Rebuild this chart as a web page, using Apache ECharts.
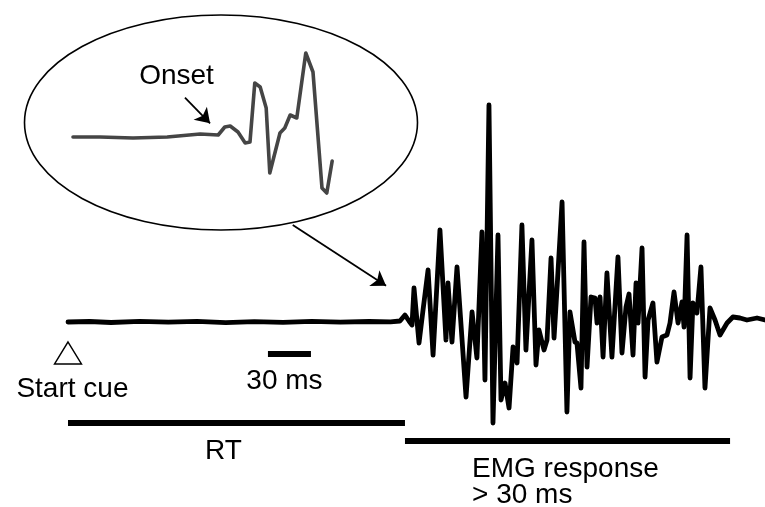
<!DOCTYPE html>
<html>
<head>
<meta charset="utf-8">
<script src="https://cdn.jsdelivr.net/npm/echarts@6/dist/echarts.min.js"></script>
<style>
  html, body { margin: 0; padding: 0; background: #fff; }
  #chart { width: 765px; height: 507px; }
</style>
</head>
<body>
<div id="chart"></div>
<script>
// main EMG trace, time in ms from start cue, amplitude in a.u.
const traceTime = [0, 15, 30, 50, 70, 90, 110, 130, 150, 170, 190, 210, 225, 231.6,
  235.1, 237.9, 240.0, 241.4, 244.9, 247.7, 251.2, 254.7, 259.5, 263.7, 265.1, 267.9,
  271.4, 277.7, 281.9, 285.3, 288.8, 290.9, 293.7, 296.5, 300.0, 302.1, 304.9, 307.7,
  310.5, 313.3, 316.7, 319.5, 323.7, 326.5, 328.6, 332.1, 334.2, 337.0, 339.1, 341.2,
  344.7, 348.1, 350.2, 353.7, 355.1, 357.9, 360.0, 362.1, 364.9, 367.7, 369.1, 371.2,
  373.3, 376.0, 379.5, 383.7, 386.5, 389.3, 391.4, 394.2, 396.3, 397.7, 400.5, 402.6,
  404.7, 408.1, 410.9, 414.4, 417.9, 420.0, 422.8, 425.6, 428.4, 429.8, 431.9, 434.0,
  436.0, 438.8, 441.6, 444.4, 447.9, 451.4, 454.9, 459.8, 463.9, 468.8, 473.7, 480.7, 486.3];
const traceAmp = [-1, -0.5, -1.5, -0.3, -1.2, -0.4, -1.6, -0.6, -1.4, -0.3, -1.1, -0.5, -0.8, 0,
  6, 0, -4, 33, -22, 11, 51, -34, 91, -19, 38, -21,
  54, -76, 9, -37, 89, -59, 216, -102, 86, -79, -62, -87,
  -26, -42, 96, -29, 81, -44, -9, -29, -19, 63, -17, 33,
  119, -91, 9, -21, -22, -67, 79, -46, 24, 23, -2, 24,
  -36, 48, -36, 64, -32, 14, 27, -34, 38, -2, 73, -56,
  1, 18, -41, -16, -14, -2, 29, -2, 19, -6, 86, -57,
  18, 8, 54, -67, 13, 1, -14, -2, 4, 3, 1, 3, 1];

// zoomed view of the onset (inset)
const insetTime = [0, 4.5, 10, 15.7, 21.2, 24.2, 25.3, 26.2, 27.5, 28.7, 29.5, 30.3,
  31.2, 32.2, 32.8, 34.5, 35.3, 36.2, 37.3, 38.8, 40.0, 41.5, 42.3, 43.2];
const insetAmp = [0, 0, -1, 0, 3, 2, 10, 11, 5, -6, -5, 54,
  50, 29, -36, 4, 9, 22, 19, 84, 65, -51, -56, -24];

// timing bars (ms)
const rtSpan = [0, 235.1];
const emgSpan = [235.1, 461.9];
const scaleSpan = [139.5, 169.5];
const startCue = 0;

const labels = ['Start cue', '30 ms', 'RT', 'EMG response', '> 30 ms', 'Onset'];

const font = '"Liberation Sans", Arial, sans-serif';
const chart = echarts.init(document.getElementById('chart'));

function bar(span, level) {
  return {
    type: 'line', xAxisIndex: 0, yAxisIndex: 0, symbol: 'none', silent: true,
    lineStyle: { color: '#000', width: 6, cap: 'butt' },
    data: [[span[0], level], [span[1], level]]
  };
}

function text(name, x, y, align) {
  return {
    value: [x, y],
    label: { formatter: name, align: align || 'center' }
  };
}

const option = {
  animation: false,
  backgroundColor: '#fff',
  graphic: [{
    type: 'ellipse', z: 0,
    shape: { cx: 221, cy: 122.5, rx: 196.5, ry: 107.5 },
    style: { fill: 'none', stroke: '#000', lineWidth: 1.6 }
  }],
  grid: [
    { left: 0, right: 0, top: 0, bottom: 0 },
    { left: 73, width: 259, top: 40, height: 160 }
  ],
  xAxis: [
    { type: 'value', min: -47.44, max: 486.28, show: false },
    { type: 'value', gridIndex: 1, min: 0, max: 43.17, show: false }
  ],
  yAxis: [
    { type: 'value', min: -186, max: 321, show: false },
    { type: 'value', gridIndex: 1, min: -63, max: 97, show: false }
  ],
  series: [
    {
      type: 'line', xAxisIndex: 0, yAxisIndex: 0, symbol: 'none', silent: true,
      lineStyle: { color: '#000', width: 4.8, join: 'round', cap: 'round' },
      data: traceTime.map((t, i) => [t, traceAmp[i]])
    },
    {
      type: 'line', xAxisIndex: 1, yAxisIndex: 1, symbol: 'none', silent: true,
      lineStyle: { color: '#454545', width: 3.6, join: 'round', cap: 'round' },
      data: insetTime.map((t, i) => [t, insetAmp[i]])
    },
    bar(rtSpan, -102),
    bar(emgSpan, -120),
    bar(scaleSpan, -33),
    {
      type: 'scatter', xAxisIndex: 0, yAxisIndex: 0, silent: true,
      symbol: 'triangle', symbolSize: [27, 22],
      itemStyle: { color: '#fff', borderColor: '#000', borderWidth: 1.4, opacity: 1 },
      data: [[startCue, -32]]
    },
    {
      type: 'lines', coordinateSystem: 'cartesian2d', xAxisIndex: 0, yAxisIndex: 0,
      silent: true, symbol: ['none', 'arrow'], symbolSize: 14,
      lineStyle: { color: '#000', width: 1.8, opacity: 1 },
      data: [
        { coords: [[156.8, 96], [221.9, 35.3]] },
        { coords: [[81.6, 223.3], [99.1, 197.7]] }
      ]
    },
    {
      type: 'scatter', xAxisIndex: 0, yAxisIndex: 0, silent: true, symbolSize: 0,
      itemStyle: { opacity: 1 },
      label: {
        show: true, position: 'inside', color: '#000', opacity: 1, textBorderWidth: 0,
        fontFamily: font, fontSize: 28, verticalAlign: 'middle'
      },
      data: [
        text(labels[0], 3.1, -68),
        text(labels[1], 151.0, -60),
        text(labels[2], 108.5, -130),
        text(labels[3], 281.9, -148, 'left'),
        text(labels[4], 281.9, -174, 'left'),
        text(labels[5], 75.7, 245)
      ]
    }
  ]
};

chart.setOption(option);
</script>
</body>
</html>
